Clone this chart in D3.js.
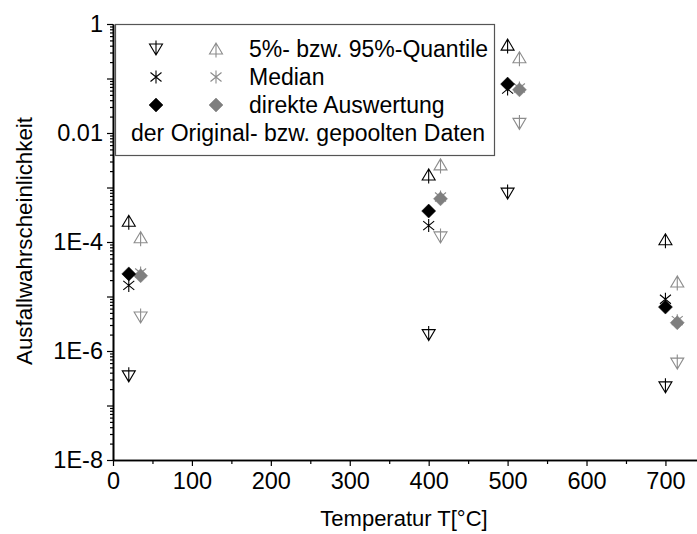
<!DOCTYPE html>
<html>
<head>
<meta charset="utf-8">
<script src="https://cdn.jsdelivr.net/npm/d3@7"></script>
<style>
  body { margin: 0; background: #fff; }
  svg { font-family: "Liberation Sans", Arial, sans-serif; }
</style>
</head>
<body>
<div id="chart"></div>
<script>
// Temperatures (original data / pooled data, shifted a bit to the right)
var tempOrig = [20, 400, 500, 700];
var tempPool = [35, 415, 515, 715];

// Original data
var q95Orig = [2.4e-4, 1.7e-3, 0.41, 1.1e-4];
var q05Orig = [3.5e-7, 2.0e-6, 7.9e-4, 2.2e-7];
var medOrig = [1.6e-5, 2.0e-4, 0.064, 8.9e-6];
var dirOrig = [2.6e-5, 3.7e-4, 0.079, 6.4e-6];

// Pooled data
var q95Pool = [1.2e-4, 2.6e-3, 0.24, 1.85e-5];
var q05Pool = [4.2e-6, 1.24e-4, 0.015, 6.0e-7];
var medPool = [2.7e-5, 6.7e-4, 0.067, 3.6e-6];
var dirPool = [2.4e-5, 6.2e-4, 0.062, 3.3e-6];

var xTicks = [0, 100, 200, 300, 400, 500, 600, 700];
var yTicks = [1e-8, 1e-7, 1e-6, 1e-5, 1e-4, 1e-3, 1e-2, 1e-1, 1];
// labels by decade exponent (only every other decade is labelled)
var yLabels = {"-8": "1E-8", "-6": "1E-6", "-4": "1E-4", "-2": "0.01", "0": "1"};

var legendRows = ["5%- bzw. 95%-Quantile", "Median", "direkte Auswertung"];
var legendLast = "der Original- bzw. gepoolten Daten";

// Dimensions and margins
var margin = {top: 24, right: 0, bottom: 74, left: 113},
  width = 697 - margin.left - margin.right,
  height = 534 - margin.top - margin.bottom;

var svg = d3.select("#chart")
  .append("svg")
  .attr("width", 697)
  .attr("height", 534)
  .append("g")
  .attr("transform", "translate(" + margin.left + "," + margin.top + ")");

var x = d3.scaleLinear().domain([0, 740]).range([0, width]);
var y = d3.scaleLog().domain([1e-8, 1]).range([height, 0]);

// Minor ticks
var yMinor = [];
yTicks.slice(0, -1).forEach(function(d) {
  for (var k = 2; k <= 9; k++) yMinor.push(d * k);
});
var xMinor = d3.range(50, 740, 100);

svg.append("g")
  .attr("class", "axis")
  .call(d3.axisLeft(y).tickValues(yMinor).tickSize(3).tickFormat("").tickSizeOuter(0));
svg.append("g")
  .attr("class", "axis yaxis")
  .call(d3.axisLeft(y).tickValues(yTicks).tickSize(6).tickSizeOuter(0)
    .tickFormat(function(d) { return yLabels[String(Math.round(Math.log10(d)))] || ""; }));

svg.append("g")
  .attr("class", "axis")
  .attr("transform", "translate(0," + height + ")")
  .call(d3.axisBottom(x).tickValues(xMinor).tickSize(4).tickFormat("").tickSizeOuter(0));
svg.append("g")
  .attr("class", "axis xaxis")
  .attr("transform", "translate(0," + height + ")")
  .call(d3.axisBottom(x).tickValues(xTicks).tickSize(6).tickSizeOuter(0).tickFormat(d3.format("d")));

svg.selectAll(".axis path").attr("stroke", "#000").attr("stroke-width", 1.6);
svg.selectAll(".axis line").attr("stroke", "#000").attr("stroke-width", 1.2);
svg.selectAll(".axis text")
  .attr("fill", "#000")
  .style("font-size", "23.5px")
  .style("font-family", "'Liberation Sans', Arial, sans-serif");
svg.selectAll(".yaxis text").attr("x", -10);
svg.selectAll(".xaxis text").attr("y", 12);

// Axis titles
svg.append("text")
  .attr("x", width / 2 - 1)
  .attr("y", height + 66)
  .attr("text-anchor", "middle")
  .style("font-size", "22px")
  .text("Temperatur T[°C]");
svg.append("text")
  .attr("transform", "translate(" + (32 - margin.left) + "," + (241 - margin.top) + ") rotate(-90)")
  .attr("text-anchor", "middle")
  .style("font-size", "22.3px")
  .text("Ausfallwahrscheinlichkeit");

// Marker shapes
var shapes = {
  up: "M0,-6L-6.5,5L6.5,5Z M0,-6L0,8.5",
  down: "M0,6L-6.5,-5L6.5,-5Z M0,6L0,-8.5",
  star: "M0,-6.5L0,6.5 M-5.5,-4.5L5.5,4.5 M-5.5,4.5L5.5,-4.5",
  diamond: "M0,-7L7,0L0,7L-7,0Z"
};

function drawPoints(xs, ys, shape, color, filled) {
  svg.append("g")
    .selectAll("path")
    .data(xs.map(function(t, i) { return {t: t, v: ys[i]}; }))
    .enter()
    .append("path")
    .attr("transform", function(d) {
      return "translate(" + x(d.t) + "," + y(d.v) + ")";
    })
    .attr("d", shapes[shape])
    .attr("fill", filled ? color : "none")
    .attr("stroke", color)
    .attr("stroke-width", filled ? 0.5 : 1.1);
}

var black = "#000", grayLine = "#8c8c8c", grayFill = "#7f7f7f";

drawPoints(tempPool, medPool, "star", grayLine, false);
drawPoints(tempPool, dirPool, "diamond", grayFill, true);
drawPoints(tempPool, q95Pool, "up", grayLine, false);
drawPoints(tempPool, q05Pool, "down", grayLine, false);
drawPoints(tempOrig, medOrig, "star", black, false);
drawPoints(tempOrig, dirOrig, "diamond", black, true);
drawPoints(tempOrig, q95Orig, "up", black, false);
drawPoints(tempOrig, q05Orig, "down", black, false);

// Legend
var legend = svg.append("g").attr("transform", "translate(" + (115 - margin.left) + "," + (24 - margin.top) + ")");
legend.append("rect")
  .attr("x", 0.5).attr("y", 0.5)
  .attr("width", 379).attr("height", 131)
  .attr("fill", "#fff")
  .attr("stroke", "#555")
  .attr("stroke-width", 1.2);

var rowY = [25, 53, 81];
var rowShapes = [["down", "up"], ["star", "star"], ["diamond", "diamond"]];
legendRows.forEach(function(label, i) {
  [[41, black], [101, grayLine]].forEach(function(c, j) {
    var col = (rowShapes[i][0] == "diamond" && j == 1) ? grayFill : c[1];
    legend.append("path")
      .attr("transform", "translate(" + c[0] + "," + rowY[i] + ")")
      .attr("d", shapes[rowShapes[i][j]])
      .attr("fill", rowShapes[i][j] == "diamond" ? col : "none")
      .attr("stroke", col)
      .attr("stroke-width", rowShapes[i][j] == "diamond" ? 0.5 : 1.1);
  });
  legend.append("text")
    .attr("x", 134)
    .attr("y", rowY[i] + 8)
    .style("font-size", "23px")
    .text(label);
});
legend.append("text")
  .attr("x", 16)
  .attr("y", 117)
  .style("font-size", "23px")
  .text(legendLast);
</script>
</body>
</html>
